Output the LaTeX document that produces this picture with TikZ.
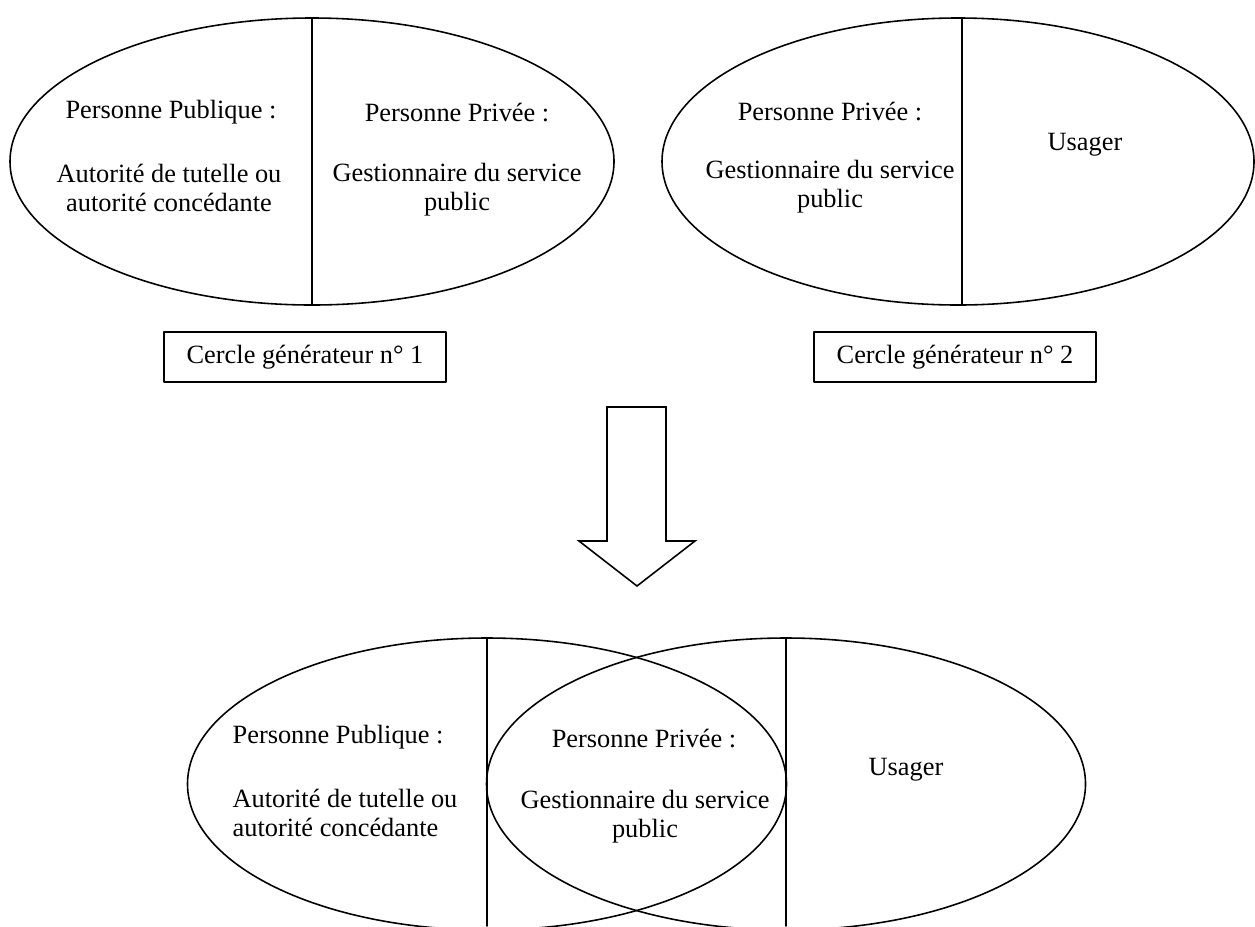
\documentclass[tikz,border=0pt]{standalone}
\usepackage{fontspec}
\setmainfont{Liberation Serif}
\usetikzlibrary{shapes.geometric}
\tikzstyle{every node}=[font=\fontsize{15}{16.5}\selectfont]
\tikzstyle{every path}=[line width=0.9pt,line cap=round,line join=round]
\tikzset{
  cercle/.style={draw, ellipse, inner sep=0pt, outer sep=0pt},
  legende/.style={draw, rectangle, minimum width=56.4mm, minimum height=10mm, outer sep=0pt}
}

\begin{document}
\begin{tikzpicture}[x=0.2mm,y=-0.2mm]
  \useasboundingbox (0,0) rectangle (1255,926);

  % cercle generateur 1
  \node[cercle, minimum width=120.8mm, minimum height=57.4mm] (c1) at (312,161.5) {};
  \draw (c1.north) -- (c1.south);
  \node (c1pub) at (171,112) {Personne Publique :};
  \node[align=center] (c1aut) at (169,188) {Autorité de tutelle ou\\autorité concédante};
  \node (c1priv) at (457,113) {Personne Privée :};
  \node[align=center] (c1gest) at (457,190) {Gestionnaire du service\\public};
  \node[legende] (leg1) at (305,357) {Cercle générateur n° 1};

  % cercle generateur 2
  \node[cercle, minimum width=118.4mm, minimum height=57.4mm] (c2) at (958,161.5) {};
  \draw ([xshift=0.8mm]c2.north) -- ([xshift=0.8mm]c2.south);
  \node (c2priv) at (830,112) {Personne Privée :};
  \node[align=center] (c2gest) at (830,187) {Gestionnaire du service\\public};
  \node (c2usa) at (1085,145) {Usager};
  \node[legende] (leg2) at (955,357) {Cercle générateur n° 2};

  % fleche
  \draw[line join=miter] (607,407) -- (666,407) -- (666,541) -- (695,541)
    -- (637,586) -- (579,541) -- (607,541) -- cycle;

  % superposition
  \node[cercle, minimum width=119.8mm, minimum height=58.4mm] (c3) at (487,784) {};
  \node[cercle, minimum width=119.8mm, minimum height=58.4mm] (c4) at (786,784) {};
  \draw (c3.north) -- (487,926);
  \draw (c4.north) -- (786,926);
  \node[anchor=west] (c3pub) at (226,737) {Personne Publique :};
  \node[anchor=west, align=left] (c3aut) at (226,813) {Autorité de tutelle ou\\autorité concédante};
  \node (c3priv) at (644,739) {Personne Privée :};
  \node[align=center] (c3gest) at (645,817) {Gestionnaire du service\\public};
  \node (c4usa) at (906,770) {Usager};
\end{tikzpicture}
\end{document}
